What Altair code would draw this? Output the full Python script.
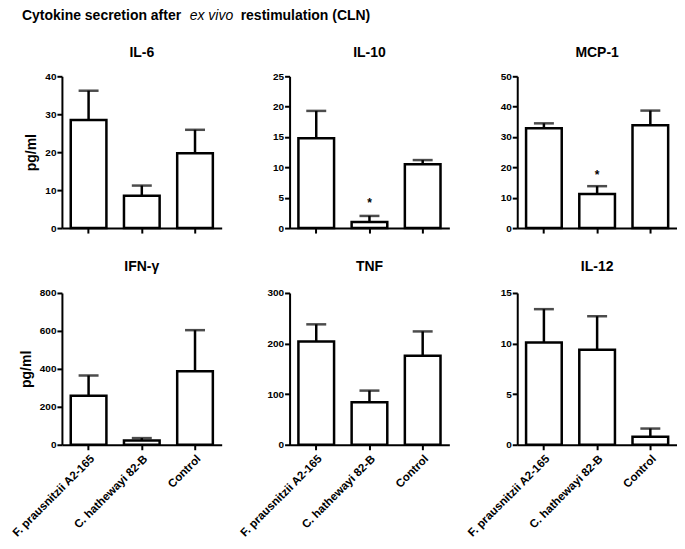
import altair as alt
import pandas as pd

FONT = "Liberation Sans"

groups = ["F. prausnitzii A2-165", "C. hathewayi 82-B", "Control"]

il6_mean = [28.5, 8.5, 19.7]
il6_err = [7.7, 2.7, 6.2]
il6_ticks = [0, 10, 20, 30, 40]

il10_mean = [14.8, 1.0, 10.5]
il10_err = [4.5, 1.0, 0.7]
il10_ticks = [0, 5, 10, 15, 20, 25]

mcp1_mean = [32.9, 11.2, 33.9]
mcp1_err = [1.6, 2.6, 4.8]
mcp1_ticks = [0, 10, 20, 30, 40, 50]

ifng_mean = [258, 23, 388]
ifng_err = [107, 12, 216]
ifng_ticks = [0, 200, 400, 600, 800]

tnf_mean = [204, 84, 176]
tnf_err = [34, 23, 48]
tnf_ticks = [0, 100, 200, 300]

il12_mean = [10.1, 9.4, 0.8]
il12_err = [3.3, 3.3, 0.8]
il12_ticks = [0, 5, 10, 15]

# significance markers: (group, y position)
il10_star = ("C. hathewayi 82-B", 4.2)
mcp1_star = ("C. hathewayi 82-B", 17.5)

title_parts = ["Cytokine secretion after", "ex vivo", "restimulation (CLN)"]

W, H = 160, 152


def panel(name, mean, err, ticks, star=None, xlabels=False, ytitle=False, main_title=False, title_dy=-20):
    df = pd.DataFrame({
        "group": groups,
        "mean": mean,
        "upper": [m + e for m, e in zip(mean, err)],
    })
    base = alt.Chart(df)
    xaxis = alt.Axis(labels=xlabels, labelAngle=-45, labelFontSize=11.5,
                     labelFontWeight="bold", labelPadding=3, labelFont=FONT,
                     labelColor="black", ticks=True, tickSize=5, tickWidth=2,
                     domainWidth=2, domainColor="black", tickColor="black",
                     title=None)
    yaxis = alt.Axis(values=ticks, title="pg/ml" if ytitle else None,
                     titleFontSize=14, titleFontWeight="bold", titleFont=FONT,
                     titleColor="black", titlePadding=6,
                     labelPadding=1, labelFontSize=10, labelFontWeight="bold",
                     labelFont=FONT, labelColor="black", labelOverlap=False,
                     tickSize=5, tickWidth=2, domainWidth=2,
                     domainColor="black", tickColor="black", grid=False)
    yscale = alt.Scale(domain=[ticks[0], ticks[-1]], nice=False)
    xscale = alt.Scale(paddingInner=0.33, paddingOuter=0.166)

    def xe():
        return alt.X("group:N", sort=groups, scale=xscale, axis=xaxis)

    def ye(field):
        return alt.Y(field, scale=yscale, axis=yaxis)

    bars = base.mark_bar(fill="white", stroke="black", strokeWidth=2.5).encode(
        x=xe(), y=ye("mean:Q"))
    rule = base.mark_rule(color="black", strokeWidth=2.5).encode(
        x=xe(), y=ye("mean:Q"), y2="upper:Q")
    cap = base.mark_tick(orient="horizontal", size=20, thickness=2.5, color="black").encode(
        x=xe(), y=ye("upper:Q"))
    layers = [bars, rule, cap]
    if star is not None:
        sdf = pd.DataFrame({"group": [star[0]], "pos": [star[1]], "t": ["*"]})
        layers.append(alt.Chart(sdf).mark_text(fontSize=12, fontWeight="bold", font=FONT, color="black").encode(
            x=xe(), y=ye("pos:Q"), text="t:N"))
    # panel title
    ndf = pd.DataFrame({"t": [name]})
    layers.append(alt.Chart(ndf).mark_text(
        align="center", baseline="alphabetic", fontSize=14, fontWeight="bold",
        font=FONT, color="black").encode(
        x=alt.value(W / 2), y=alt.value(title_dy), text="t:N"))
    if main_title:
        offs = [-40, 128, 179]
        styles = [("bold", "normal"), ("normal", "italic"), ("bold", "normal")]
        for part, ox, (fw, fs) in zip(title_parts, offs, styles):
            tdf = pd.DataFrame({"t": [part]})
            layers.append(alt.Chart(tdf).mark_text(
                align="left", baseline="alphabetic", fontSize=14, fontWeight=fw,
                fontStyle=fs, font=FONT, color="black").encode(
                x=alt.value(ox), y=alt.value(-56), text="t:N"))
    return alt.layer(*layers).properties(width=W, height=H)


charts = [
    panel("IL-6", il6_mean, il6_err, il6_ticks, ytitle=True, main_title=True, title_dy=-19),
    panel("IL-10", il10_mean, il10_err, il10_ticks, star=il10_star, title_dy=-19),
    panel("MCP-1", mcp1_mean, mcp1_err, mcp1_ticks, star=mcp1_star, title_dy=-19),
    panel("IFN-γ", ifng_mean, ifng_err, ifng_ticks, xlabels=True, ytitle=True, title_dy=-22),
    panel("TNF", tnf_mean, tnf_err, tnf_ticks, xlabels=True, title_dy=-22),
    panel("IL-12", il12_mean, il12_err, il12_ticks, xlabels=True, title_dy=-22),
]

chart = alt.concat(
    *charts, columns=3, spacing={"row": 65, "column": 68}, bounds="flush"
).properties(
    padding={"left": 2, "top": 1, "right": 0, "bottom": 0}
).configure_view(stroke=None)

chart.save("out.html", embed_options={"renderer": "svg", "actions": False})
